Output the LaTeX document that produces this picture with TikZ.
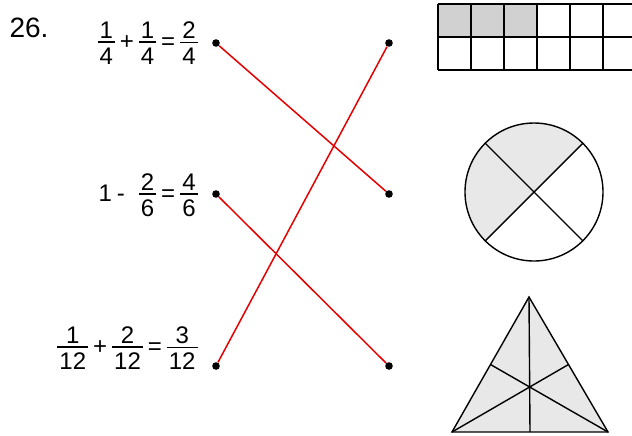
\documentclass[tikz,border=0pt]{standalone}
\usepackage{fontspec}
\setmainfont{Liberation Sans}
\usepackage{tikz}
\usetikzlibrary{positioning,calc}

% fraction: numerator, bar, denominator
\newcommand{\fr}[2]{$\vcenter{\offinterlineskip
  \halign{\hfil\kern1pt##\kern1pt\hfil\cr #1\cr
  \noalign{\kern1.6pt\hrule height 0.75pt\kern2.4pt}
  #2\cr}}$}
\newcommand{\op}[1]{\kern2.5pt#1\kern2.5pt}

\begin{document}
\begin{tikzpicture}[
    x=0.5pt, y=-0.5pt,
    eq node/.style={inner sep=0pt,anchor=east,font=\fontsize{12}{14}\selectfont},
    dot node/.style={circle,fill=black,inner sep=0pt,minimum size=3.8pt},
    link/.style={red!90!black,line width=0.75pt},
    shape line/.style={black,line width=0.7pt},
    shade fill/.style={fill=black!9}
]
\clip (0,0) rectangle (632,435);

\node[font=\fontsize{14}{16}\selectfont] (num) at (29,28) {26.};

% left column: sums
\node[eq node] (eq1) at (198,43) {\fr{1}{4}\op{+}\fr{1}{4}\op{=}\fr{2}{4}};
\node[eq node] (eq2) at (198,195) {1\kern2.5pt-\kern7pt\fr{2}{6}\op{=}\fr{4}{6}};
\node[eq node] (eq3) at (198,348) {\fr{1}{12}\op{+}\fr{2}{12}\op{=}\fr{3}{12}};

\node[dot node] (a1) at (216,43) {};
\node[dot node] (a2) at (216,194) {};
\node[dot node] (a3) at (216,366) {};
\node[dot node] (b1) at (389,43) {};
\node[dot node] (b2) at (389,194) {};
\node[dot node] (b3) at (389,366) {};

\draw[link] (a1) -- (b2);
\draw[link] (a2) -- (b3);
\draw[link] (a3) -- (b1);

% grid
\fill[shade fill,fill=black!18] (438,4) rectangle (537,37);
\foreach \x in {438,471,504,537,570,603,636}
  \draw[shape line] (\x,4) -- (\x,70);
\foreach \y in {4,37,70}
  \draw[shape line] (438,\y) -- (636,\y);

% circle
\begin{scope}
  \clip (624,102) -- (444,282) -- (420,80) -- cycle;
  \fill[shade fill] (534,192) circle[radius=69];
\end{scope}
\draw[shape line] (534,192) circle[radius=69];
\draw[shape line] (534,192) ++(-48.8,-48.8) -- ++(97.6,97.6);
\draw[shape line] (534,192) ++(48.8,-48.8) -- ++(-97.6,97.6);

% triangle
\coordinate (top) at (529,297);
\coordinate (bl) at (452,432);
\coordinate (br) at (608,432);
\draw[shape line,shade fill] (top) -- (bl) -- (br) -- cycle;
\draw[shape line] (top) -- ($(bl)!0.5!(br)$);
\draw[shape line] (bl) -- ($(top)!0.5!(br)$);
\draw[shape line] (br) -- ($(top)!0.5!(bl)$);
\end{tikzpicture}
\end{document}
